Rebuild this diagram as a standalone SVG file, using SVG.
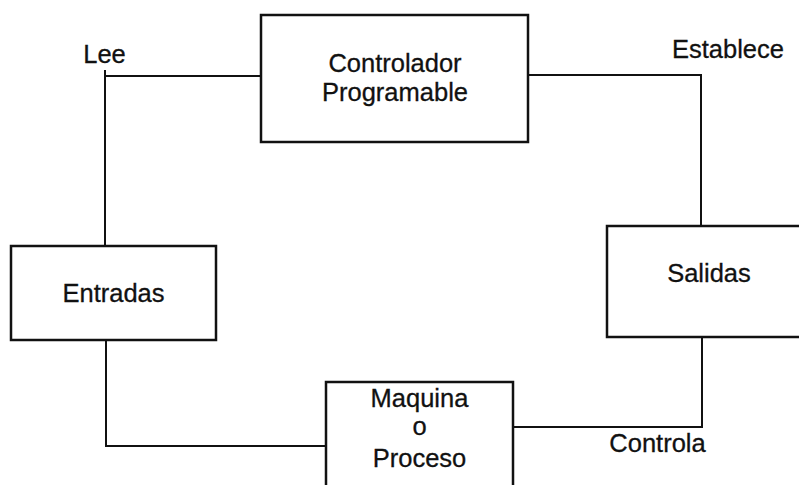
<svg xmlns="http://www.w3.org/2000/svg" width="799" height="485" viewBox="0 0 799 485">
<style>
.box{fill:#fff;stroke:#111;stroke-width:2.5}
.ln{fill:none;stroke:#111;stroke-width:2}
text{font-family:"Liberation Sans",Arial,sans-serif;font-size:25.5px;fill:#111;text-anchor:middle;stroke:#111;stroke-width:0.3}
</style>
<rect width="799" height="485" fill="#fff"/>
<g id="connectors">
<polyline class="ln" points="261,76 105,76 105,246"/>
<line class="ln" x1="105" y1="70" x2="105" y2="82"/>
<polyline class="ln" points="528,75 701,75 701,226"/>
<polyline class="ln" points="106,340 106,446 326,446"/>
<polyline class="ln" points="513,427 702,427 702,337"/>
</g>
<g id="controlador">
<rect class="box" x="261" y="15" width="267" height="127"/>
<text x="395" y="72">Controlador</text>
<text x="395" y="101">Programable</text>
</g>
<g id="entradas">
<rect class="box" x="11" y="246" width="205" height="94"/>
<text x="113.5" y="302">Entradas</text>
</g>
<g id="salidas">
<rect class="box" x="607" y="226" width="205" height="111"/>
<text x="709" y="282">Salidas</text>
</g>
<g id="maquina">
<rect class="box" x="326" y="382" width="187" height="120"/>
<text x="419.5" y="407">Maquina</text>
<text x="419.5" y="435">o</text>
<text x="419.5" y="467">Proceso</text>
</g>
<g id="labels">
<text x="104.5" y="63">Lee</text>
<text x="728" y="58">Establece</text>
<text x="657.5" y="452">Controla</text>
</g>
</svg>
